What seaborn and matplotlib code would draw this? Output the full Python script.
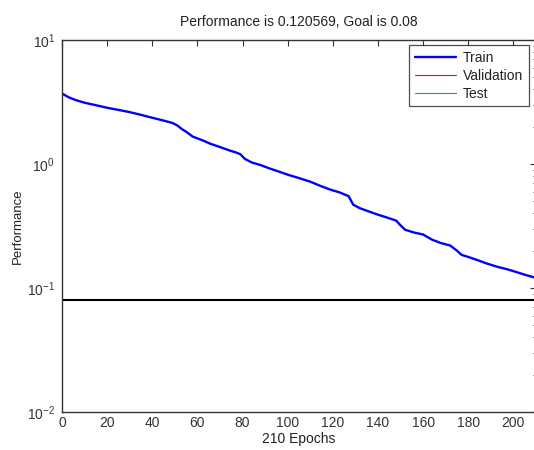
import numpy as np
import pandas as pd
import matplotlib
matplotlib.use("Agg")
import matplotlib.pyplot as plt
from matplotlib.ticker import LogLocator, NullFormatter
import seaborn as sns

# training record
epochs = [0, 3, 6, 10, 15, 20, 25, 30, 35, 40, 45, 49, 51, 53, 55, 58, 62, 66,
          70, 74, 77, 79, 81, 84, 88, 92, 96, 100, 105, 110, 115, 119, 123,
          126, 127, 129, 132, 135, 140, 145, 148, 150, 152, 156, 160, 164,
          168, 172, 175, 177, 180, 184, 188, 193, 197, 201, 205, 210]
train_perf = [3.70, 3.45, 3.28, 3.12, 2.98, 2.84, 2.73, 2.62, 2.49, 2.36, 2.24,
              2.14, 2.05, 1.92, 1.82, 1.66, 1.56, 1.45, 1.37, 1.29, 1.24, 1.20,
              1.10, 1.03, 0.98, 0.92, 0.87, 0.82, 0.77, 0.72, 0.66, 0.62, 0.59,
              0.56, 0.55, 0.47, 0.44, 0.42, 0.39, 0.365, 0.35, 0.32, 0.295,
              0.28, 0.27, 0.245, 0.23, 0.22, 0.20, 0.185, 0.178, 0.168, 0.158,
              0.148, 0.142, 0.135, 0.128, 0.120569]
val_perf = []
test_perf = []
goal = 0.08
best_perf = 0.120569
n_epochs = 210

sns.set_style("white")
plt.rcParams['font.family'] = ['Liberation Sans', 'DejaVu Sans']
plt.rcParams['mathtext.fontset'] = 'custom'
plt.rcParams['mathtext.rm'] = 'Liberation Sans'
plt.rcParams['mathtext.it'] = 'Liberation Sans'

df = pd.DataFrame({'epoch': epochs, 'perf': train_perf})

fig = plt.figure(figsize=(5.34, 4.5), dpi=100)
ax = fig.add_axes([62 / 534, 1 - 412 / 450, 474 / 534, 372 / 450])

sns.lineplot(data=df, x='epoch', y='perf', ax=ax, color='#0000ff', lw=1.7, label='Train')
ax.plot(epochs[:len(val_perf)], val_perf, color='#ff0000', lw=0.8, label='Validation')
ax.plot(epochs[:len(test_perf)], test_perf, color='#00c000', lw=0.8, label='Test')
ax.axhline(goal, color='black', lw=1.5)

ax.set_yscale('log')
ax.set_xlim(0, n_epochs)
ax.set_ylim(1e-2, 1e1)
ax.set_xticks(np.arange(0, 201, 20))
ax.yaxis.set_minor_locator(LogLocator(base=10, subs=np.arange(2, 10)))
ax.yaxis.set_minor_formatter(NullFormatter())

ax.tick_params(which='both', direction='in', top=True, right=True,
               colors='#333333', labelcolor='#333333', labelsize=10)
ax.tick_params(which='major', length=4, width=0.8)
ax.tick_params(which='minor', length=2.5, width=0.7)
ax.tick_params(axis='x', pad=3)
ax.tick_params(axis='y', pad=5)
for s in ax.spines.values():
    s.set_color('#333333')
    s.set_linewidth(1.0)

ax.set_title(f"Performance is {best_perf}, Goal is {goal}", fontsize=10,
             color='#222222', pad=10)
ax.set_xlabel(f"{n_epochs} Epochs", fontsize=10, color='#222222', labelpad=1)
ax.set_ylabel("Performance", fontsize=9.5, color='#222222', labelpad=2)

leg = ax.legend(loc='upper right', bbox_to_anchor=(467 / 474, 1 - 5 / 372),
                fontsize=10, frameon=True, fancybox=False, handlelength=3.0,
                borderpad=0.4, labelspacing=0.3, handletextpad=0.5,
                borderaxespad=0)
leg.get_frame().set_edgecolor('#222222')
leg.get_frame().set_linewidth(0.9)
for t in leg.get_texts():
    t.set_color('#222222')

fig.savefig('out.png', dpi=100)
